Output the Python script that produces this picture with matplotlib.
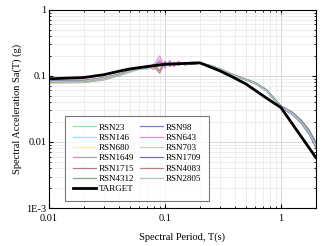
import matplotlib
matplotlib.use("Agg")
import matplotlib.pyplot as plt
from matplotlib.ticker import FixedLocator, FixedFormatter, LogLocator, NullFormatter

plt.rcParams['font.family'] = ['Liberation Serif', 'DejaVu Serif']

# periods used for the ground motion records
T = [0.01, 0.02, 0.03, 0.04, 0.05, 0.06, 0.07, 0.08, 0.09, 0.1, 0.11, 0.12, 0.13,
     0.15, 0.17, 0.2, 0.25, 0.3, 0.4, 0.5, 0.6, 0.75, 1.0, 1.25, 1.5, 1.75, 2.0]

rsn23 = [0.080, 0.081, 0.090, 0.103, 0.118, 0.130, 0.130, 0.145, 0.160, 0.140, 0.155, 0.148, 0.157, 0.150, 0.158, 0.155, 0.142, 0.126, 0.101, 0.088, 0.078, 0.061, 0.034, 0.028, 0.021, 0.014, 0.0092]
rsn146 = [0.083, 0.084, 0.091, 0.102, 0.112, 0.125, 0.125, 0.138, 0.150, 0.145, 0.158, 0.145, 0.160, 0.148, 0.160, 0.156, 0.139, 0.123, 0.099, 0.086, 0.076, 0.059, 0.033, 0.027, 0.020, 0.014, 0.0085]
rsn680 = [0.079, 0.080, 0.088, 0.100, 0.114, 0.126, 0.138, 0.142, 0.140, 0.160, 0.145, 0.155, 0.148, 0.155, 0.150, 0.154, 0.141, 0.125, 0.100, 0.087, 0.077, 0.060, 0.034, 0.027, 0.020, 0.014, 0.0083]
rsn1649 = [0.085, 0.086, 0.094, 0.106, 0.120, 0.130, 0.140, 0.125, 0.175, 0.135, 0.165, 0.140, 0.160, 0.148, 0.157, 0.155, 0.140, 0.124, 0.100, 0.088, 0.078, 0.061, 0.035, 0.027, 0.021, 0.014, 0.0090]
rsn1715 = [0.081, 0.082, 0.091, 0.104, 0.120, 0.132, 0.130, 0.150, 0.120, 0.165, 0.140, 0.158, 0.145, 0.156, 0.148, 0.155, 0.140, 0.124, 0.100, 0.087, 0.077, 0.060, 0.034, 0.027, 0.020, 0.0135, 0.0087]
rsn4312 = [0.078, 0.079, 0.087, 0.100, 0.116, 0.128, 0.136, 0.142, 0.148, 0.150, 0.150, 0.152, 0.150, 0.153, 0.152, 0.156, 0.142, 0.126, 0.102, 0.089, 0.079, 0.062, 0.035, 0.028, 0.021, 0.015, 0.0100]
rsn98 = [0.084, 0.085, 0.093, 0.105, 0.116, 0.130, 0.135, 0.145, 0.160, 0.140, 0.162, 0.140, 0.158, 0.145, 0.155, 0.154, 0.139, 0.123, 0.099, 0.086, 0.076, 0.059, 0.033, 0.026, 0.019, 0.013, 0.0082]
rsn643 = [0.082, 0.083, 0.092, 0.104, 0.118, 0.135, 0.130, 0.140, 0.200, 0.130, 0.170, 0.138, 0.165, 0.145, 0.160, 0.156, 0.141, 0.125, 0.100, 0.087, 0.077, 0.060, 0.034, 0.027, 0.020, 0.014, 0.0088]
rsn703 = [0.080, 0.080, 0.089, 0.101, 0.115, 0.126, 0.134, 0.140, 0.148, 0.152, 0.150, 0.150, 0.154, 0.150, 0.156, 0.155, 0.140, 0.124, 0.100, 0.087, 0.077, 0.060, 0.034, 0.027, 0.020, 0.014, 0.0086]
rsn1709 = [0.083, 0.084, 0.093, 0.106, 0.119, 0.128, 0.135, 0.140, 0.145, 0.155, 0.148, 0.155, 0.150, 0.155, 0.150, 0.156, 0.142, 0.126, 0.101, 0.088, 0.078, 0.061, 0.035, 0.028, 0.021, 0.015, 0.0095]
rsn4083 = [0.081, 0.082, 0.091, 0.103, 0.117, 0.127, 0.133, 0.138, 0.110, 0.160, 0.140, 0.160, 0.145, 0.155, 0.150, 0.155, 0.140, 0.124, 0.100, 0.087, 0.077, 0.060, 0.034, 0.027, 0.020, 0.014, 0.0087]
rsn2805 = [0.082, 0.083, 0.092, 0.104, 0.117, 0.127, 0.134, 0.140, 0.147, 0.150, 0.152, 0.150, 0.152, 0.152, 0.154, 0.155, 0.141, 0.125, 0.100, 0.087, 0.077, 0.060, 0.034, 0.027, 0.020, 0.014, 0.0090]

# target spectrum
T_target = [0.01, 0.02, 0.03, 0.04, 0.05, 0.075, 0.1, 0.2, 0.3, 0.4, 0.5, 0.75, 1.0, 2.0]
Sa_target = [0.090, 0.094, 0.104, 0.117, 0.127, 0.140, 0.149, 0.157, 0.118, 0.092, 0.075, 0.046, 0.033, 0.0058]

records = [("RSN23", rsn23, "#8fe3a8"), ("RSN146", rsn146, "#8fe6f2"),
           ("RSN680", rsn680, "#f3f0b0"), ("RSN1649", rsn1649, "#ef86a4"),
           ("RSN1715", rsn1715, "#b07c98"), ("RSN4312", rsn4312, "#86a88c"),
           ("RSN98", rsn98, "#7c7cc8"), ("RSN643", rsn643, "#e48ae6"),
           ("RSN703", rsn703, "#cfcdb8"), ("RSN1709", rsn1709, "#7276a0"),
           ("RSN4083", rsn4083, "#b08484"), ("RSN2805", rsn2805, "#a8c8c0")]

fig = plt.figure(figsize=(3.24, 2.46), dpi=100)
ax = fig.add_axes([0.151, 0.154, 0.824, 0.807])

handles = {}
for name, vals, col in records:
    h, = ax.plot(T, vals, color=col, lw=0.9)
    handles[name] = h
ht, = ax.plot(T_target, Sa_target, color="black", lw=2.0)

ax.set_xscale("log")
ax.set_yscale("log")
ax.set_xlim(0.01, 2)
ax.set_ylim(0.001, 1)

ax.xaxis.set_major_locator(FixedLocator([0.01, 0.1, 1]))
ax.xaxis.set_major_formatter(FixedFormatter(["0.01", "0.1", "1"]))
ax.yaxis.set_major_locator(FixedLocator([0.001, 0.01, 0.1, 1]))
ax.yaxis.set_major_formatter(FixedFormatter(["1E-3", "0.01", "0.1", "1"]))
ax.xaxis.set_minor_locator(LogLocator(base=10, subs=range(2, 10)))
ax.yaxis.set_minor_locator(LogLocator(base=10, subs=range(2, 10)))
ax.xaxis.set_minor_formatter(NullFormatter())
ax.yaxis.set_minor_formatter(NullFormatter())

ax.grid(True, which="major", color="#d0d0d0", lw=0.6)
ax.grid(True, which="minor", color="#e6e6e6", lw=0.5)
ax.set_axisbelow(True)
ax.tick_params(which="both", direction="in", top=True, right=True, labelsize=7.5)
ax.tick_params(axis="x", pad=4)
ax.tick_params(axis="y", pad=2)
ax.tick_params(which="major", length=3)
ax.tick_params(which="minor", length=1.5)
for s in ax.spines.values():
    s.set_linewidth(0.8)

ax.set_xlabel("Spectral Period, T(s)", fontsize=7.5, labelpad=7)
ax.set_ylabel("Spectral Acceleration Sa(T) (g)", fontsize=7.5, labelpad=3)

order = ["RSN23", "RSN146", "RSN680", "RSN1649", "RSN1715", "RSN4312"]
order2 = ["RSN98", "RSN643", "RSN703", "RSN1709", "RSN4083", "RSN2805"]
hl = [handles[n] for n in order] + [ht] + [handles[n] for n in order2]
labels = order + ["TARGET"] + order2
leg = ax.legend(hl, labels, ncol=2, loc="lower left", bbox_to_anchor=(0.045, 0.015),
                fontsize=6.5, frameon=True, fancybox=False, edgecolor="#555555",
                handlelength=2.6, handletextpad=0.3, columnspacing=0.6,
                labelspacing=0.22, borderpad=0.8)
leg.get_frame().set_linewidth(0.8)

fig.savefig("out.png", dpi=100)
